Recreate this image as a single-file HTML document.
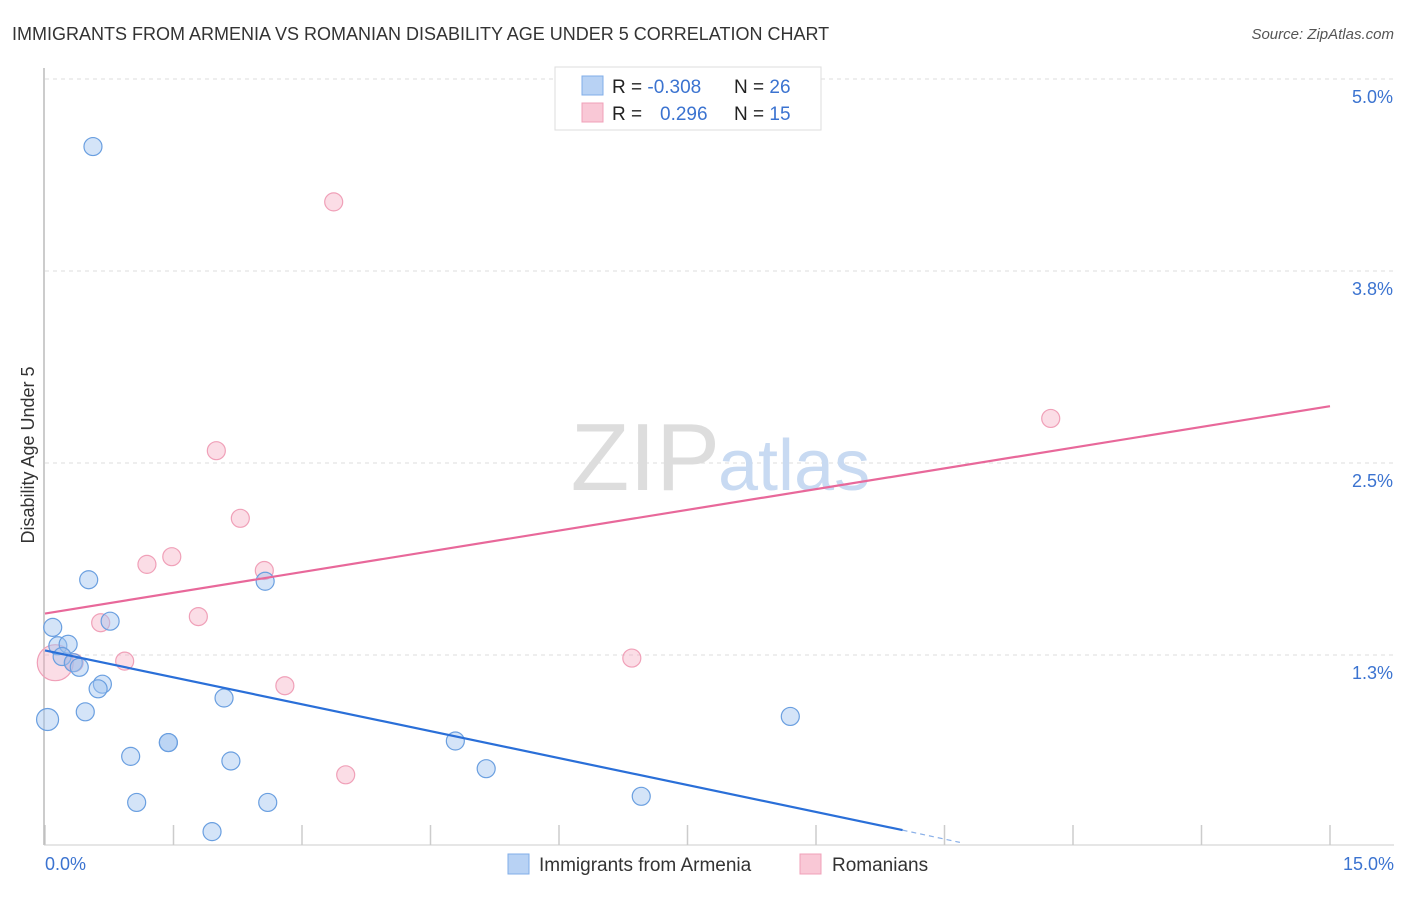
<!DOCTYPE html>
<html><head><meta charset="utf-8"><style>
body{margin:0;background:#fff;font-family:"Liberation Sans",sans-serif}
svg text{font-family:"Liberation Sans",sans-serif}
</style></head><body>
<svg width="1406" height="892">
<text x="12" y="40" font-size="18" fill="#333">IMMIGRANTS FROM ARMENIA VS ROMANIAN DISABILITY AGE UNDER 5 CORRELATION CHART</text>
<text x="1394" y="39" font-size="15" fill="#555" font-style="italic" text-anchor="end">Source: ZipAtlas.com</text>
<g id="grid"></g>
<text x="720" y="490" font-size="96" fill="#ddd" text-anchor="end" font-family="Liberation Serif">ZIP</text>
<text x="718" y="490" font-size="72" fill="#c8daf2">atlas</text>
<line x1="44" y1="68" x2="44" y2="845" stroke="#bbb" stroke-width="1.5"/>
<line x1="44" y1="845" x2="1394" y2="845" stroke="#ccc"/>
<text x="34" y="455" font-size="18" fill="#333" text-anchor="middle" transform="rotate(-90 34 455)">Disability Age Under 5</text>
<text x="45" y="870" font-size="18" fill="#3b73d0">0.0%</text>
<text x="1394" y="870" font-size="18" fill="#3b73d0" text-anchor="end">15.0%</text>
<g id="marks"></g>
<g>
<rect x="555" y="67" width="266" height="63" fill="#fff" stroke="#ddd"/>
<rect x="582" y="76" width="21" height="19" fill="#b8d2f4" stroke="#80aee8"/>
<rect x="582" y="103" width="21" height="19" fill="#f9c8d6" stroke="#f0a0b8"/>
<text x="612" y="93" font-size="19" fill="#222">R = <tspan fill="#3b73d0">-0.308</tspan><tspan x="734">N = </tspan><tspan fill="#3b73d0">26</tspan></text>
<text x="612" y="120" font-size="19" fill="#222">R = <tspan x="660" fill="#3b73d0">0.296</tspan><tspan x="734">N = </tspan><tspan fill="#3b73d0"> 15</tspan></text>
</g>
<g>
<rect x="508" y="854" width="21" height="20" fill="#b8d2f4" stroke="#80aee8"/>
<text x="539" y="871" font-size="19" fill="#333">Immigrants from Armenia</text>
<rect x="800" y="854" width="21" height="20" fill="#f9c8d6" stroke="#f0a0b8"/>
<text x="832" y="871" font-size="19" fill="#333">Romanians</text>
</g>
</svg>
<script>
const yTicks=[5.0,3.75,2.5,1.25];
const yTickLabels=["5.0%","3.8%","2.5%","1.3%"];
const xTicks=[0,1.5,3,4.5,6,7.5,9,10.5,12,13.5,15];
const armeniaX=[0.56,0.51,2.57,0.76,0.09,0.15,0.27,0.20,0.33,0.40,0.67,0.62,2.09,0.03,0.47,1.44,1.44,4.79,8.70,1.00,2.17,5.15,1.07,2.60,6.96,1.95];
const armeniaY=[4.56,1.74,1.73,1.47,1.43,1.31,1.32,1.24,1.20,1.17,1.06,1.03,0.97,0.83,0.88,0.68,0.68,0.69,0.85,0.59,0.56,0.51,0.29,0.29,0.33,0.10];
const romX=[3.37,2.00,2.28,1.48,1.19,2.56,1.79,0.65,0.93,0.34,0.12,2.80,3.51,6.85,11.74];
const romY=[4.20,2.58,2.14,1.89,1.84,1.80,1.50,1.46,1.21,1.20,1.20,1.05,0.47,1.23,2.79];
const armeniaTrend=[[0,1.28],[10.01,0.11]];
const armeniaTrendDash=[[10.01,0.11],[10.68,0.03]];
const romTrend=[[0,1.52],[15,2.87]];
const NS="http://www.w3.org/2000/svg";
const sx=v=>45+v/15*1285;
const sy=v=>847-v*153.6;
const grid=document.getElementById('grid'),marks=document.getElementById('marks');
function mk(tag,attrs,parent){const e=document.createElementNS(NS,tag);for(const k in attrs)e.setAttribute(k,attrs[k]);parent.appendChild(e);return e;}
yTicks.forEach((t,i)=>{
 const l=mk('line',{x1:45,x2:1394,y1:sy(t),y2:sy(t),stroke:'#ddd','stroke-dasharray':'4,4'},grid);
 
 
 const tx=mk('text',{x:1393,y:sy(t)+24,'font-size':18,fill:'#3b73d0','text-anchor':'end'},grid);
 tx.textContent=yTickLabels[i];
 
 
});
xTicks.forEach(t=>{
 const l=mk('line',{x1:sx(t),x2:sx(t),y1:825,y2:845,stroke:'#ccc','stroke-width':1.5},grid);
 
 
});
romX.forEach((x,i)=>{
 const c=mk('circle',{cx:sx(x),cy:sy(romY[i]),r:(i==10?18:9),fill:'rgba(245,170,192,0.4)',stroke:'#f0a0b8','stroke-width':1.2},marks);
 
 
});
armeniaX.forEach((x,i)=>{
 const c=mk('circle',{cx:sx(x),cy:sy(armeniaY[i]),r:(i==13?11:9),fill:'rgba(160,196,240,0.45)',stroke:'#6a9fe0','stroke-width':1.2},marks);
 
 
});
const lb=mk('line',{x1:sx(armeniaTrend[0][0]),y1:sy(armeniaTrend[0][1]),x2:sx(armeniaTrend[1][0]),y2:sy(armeniaTrend[1][1]),stroke:'#2a6fd8','stroke-width':2.2},marks);


const lbd=mk('line',{x1:sx(armeniaTrendDash[0][0]),y1:sy(armeniaTrendDash[0][1]),x2:sx(armeniaTrendDash[1][0]),y2:sy(armeniaTrendDash[1][1]),stroke:'#8ab0e8','stroke-width':1.2,'stroke-dasharray':'5,4'},marks);


const lp=mk('line',{x1:sx(romTrend[0][0]),y1:sy(romTrend[0][1]),x2:sx(romTrend[1][0]),y2:sy(romTrend[1][1]),stroke:'#e8689a','stroke-width':2.2},marks);


</script>
</body></html>
